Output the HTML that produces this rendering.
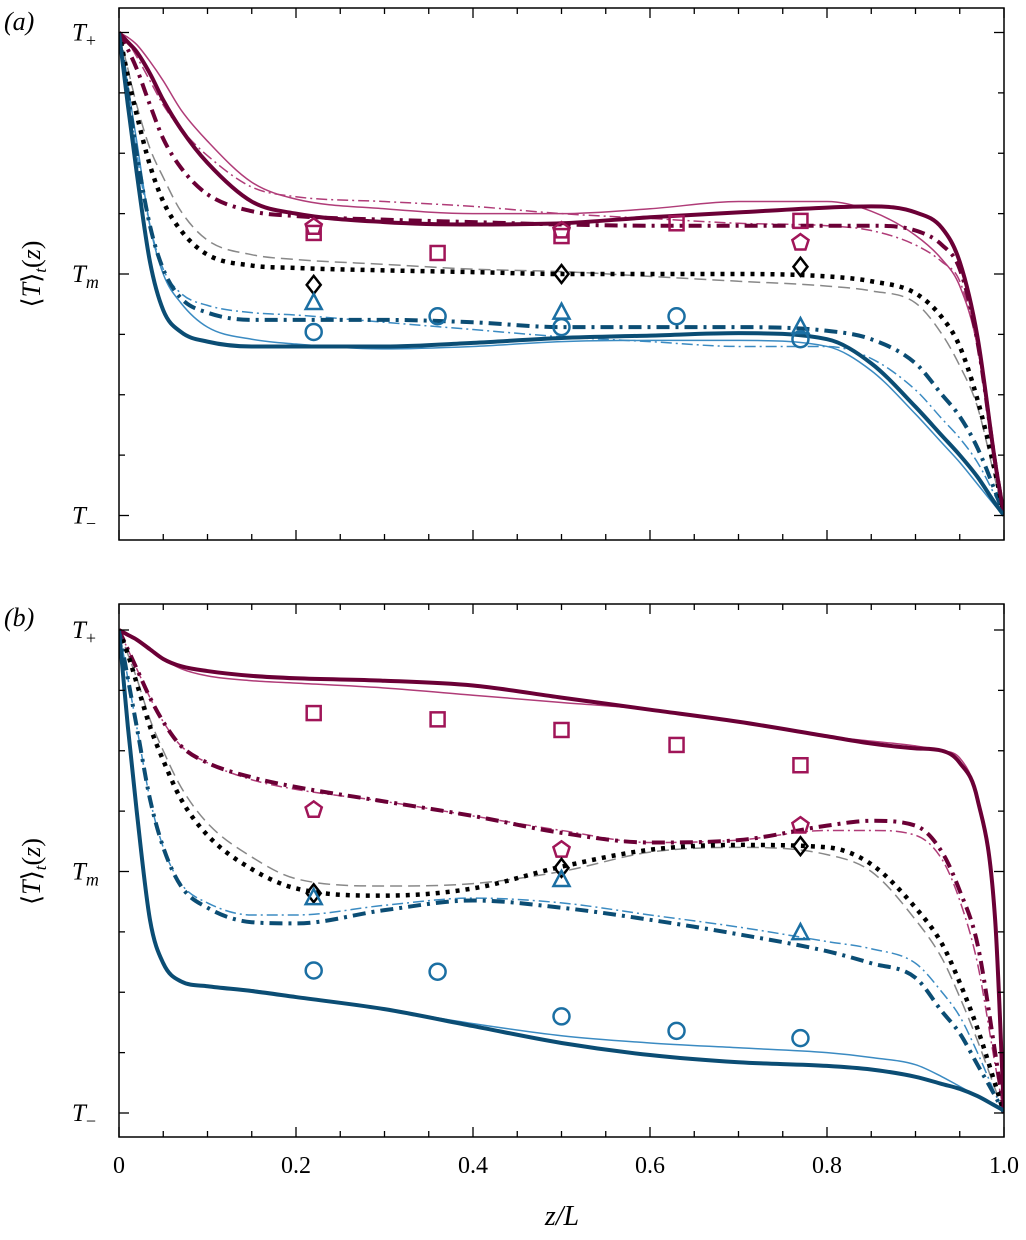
<!DOCTYPE html>
<html><head><meta charset="utf-8"><style>
body{margin:0;background:#fff}
svg{display:block;font-family:"Liberation Serif",serif}
</style></head><body>
<svg id="c" width="1026" height="1240"></svg>
<script>
const zs=[0,0.01,0.02,0.035,0.05,0.07,0.1,0.15,0.2,0.3,0.4,0.5,0.6,0.7,0.8,0.85,0.9,0.93,0.95,0.97,0.99,1];
// panel a series (theta: T+=1, Tm=0, T-=-1)
const aMaroonThick=[1,0.96,0.92,0.83,0.72,0.6,0.46,0.3,0.25,0.215,0.205,0.21,0.235,0.255,0.275,0.28,0.255,0.19,0.05,-0.26,-0.78,-1];
const aPinkThin=[1,0.98,0.95,0.88,0.8,0.68,0.55,0.38,0.31,0.27,0.25,0.25,0.27,0.3,0.3,0.26,0.16,0.06,-0.05,-0.3,-0.8,-1];
const aMaroonDD=[1,0.93,0.85,0.7,0.56,0.44,0.33,0.26,0.24,0.225,0.215,0.205,0.2,0.2,0.2,0.2,0.18,0.12,0.02,-0.28,-0.78,-1];
const aPinkDD=[1,0.96,0.9,0.8,0.7,0.6,0.49,0.36,0.32,0.3,0.28,0.25,0.23,0.21,0.2,0.18,0.12,0.05,-0.03,-0.3,-0.8,-1];
const aBlackDot=[1,0.82,0.66,0.45,0.3,0.18,0.08,0.035,0.025,0.015,0.008,0,0,0,-0.01,-0.03,-0.08,-0.18,-0.3,-0.52,-0.82,-1];
const aGrayDash=[1,0.85,0.7,0.52,0.4,0.26,0.14,0.08,0.06,0.04,0.02,0.01,-0.01,-0.03,-0.05,-0.07,-0.12,-0.25,-0.38,-0.55,-0.85,-1];
const aBlueDD=[1,0.75,0.5,0.2,0.02,-0.1,-0.16,-0.19,-0.19,-0.19,-0.2,-0.22,-0.22,-0.22,-0.235,-0.27,-0.37,-0.5,-0.59,-0.72,-0.9,-1];
const aBlueDDThin=[1,0.75,0.5,0.2,0.02,-0.08,-0.13,-0.16,-0.17,-0.2,-0.23,-0.26,-0.28,-0.3,-0.3,-0.35,-0.48,-0.6,-0.68,-0.78,-0.92,-1];
const aBlueThick=[1,0.7,0.42,0.05,-0.15,-0.24,-0.28,-0.3,-0.3,-0.3,-0.285,-0.265,-0.255,-0.245,-0.27,-0.37,-0.55,-0.67,-0.75,-0.84,-0.95,-1];
const aBlueThin=[1,0.78,0.55,0.2,0.0,-0.12,-0.22,-0.27,-0.29,-0.31,-0.3,-0.28,-0.275,-0.275,-0.3,-0.4,-0.58,-0.7,-0.78,-0.87,-0.96,-1];
// panel b series
const bMaroonThick=[1,0.98,0.96,0.92,0.88,0.85,0.83,0.81,0.8,0.79,0.77,0.72,0.67,0.62,0.56,0.53,0.51,0.5,0.45,0.3,-0.2,-1];
const bPinkThin=[1,0.98,0.96,0.92,0.88,0.84,0.81,0.79,0.78,0.76,0.73,0.7,0.67,0.62,0.56,0.54,0.52,0.5,0.47,0.3,-0.2,-1];
const bMaroonDD=[1,0.92,0.84,0.72,0.62,0.52,0.45,0.39,0.35,0.29,0.23,0.16,0.12,0.13,0.19,0.21,0.19,0.08,-0.08,-0.3,-0.75,-1];
const bPinkDD=[1,0.92,0.84,0.72,0.62,0.52,0.45,0.38,0.34,0.29,0.23,0.17,0.12,0.13,0.17,0.17,0.15,0.05,-0.12,-0.38,-0.8,-1];
const bBlackDot=[1,0.9,0.78,0.6,0.46,0.3,0.15,0.01,-0.07,-0.1,-0.07,0.02,0.09,0.11,0.1,0.03,-0.15,-0.3,-0.46,-0.65,-0.88,-1];
const bGrayDash=[1,0.9,0.8,0.63,0.5,0.35,0.2,0.06,-0.03,-0.06,-0.05,0,0.08,0.1,0.07,0,-0.2,-0.36,-0.52,-0.7,-0.9,-1];
const bBlueDD=[1,0.8,0.6,0.3,0.1,-0.06,-0.15,-0.21,-0.215,-0.16,-0.12,-0.15,-0.2,-0.26,-0.33,-0.38,-0.44,-0.58,-0.67,-0.8,-0.93,-1];
const bBlueDDThin=[1,0.8,0.6,0.3,0.1,-0.05,-0.13,-0.18,-0.18,-0.14,-0.11,-0.13,-0.18,-0.23,-0.29,-0.32,-0.38,-0.5,-0.6,-0.75,-0.92,-1];
const bBlueThick=[1,0.6,0.25,-0.2,-0.38,-0.455,-0.475,-0.495,-0.52,-0.57,-0.64,-0.71,-0.76,-0.79,-0.805,-0.82,-0.85,-0.88,-0.9,-0.93,-0.97,-0.99];
const bBlueThin=[1,0.6,0.25,-0.2,-0.38,-0.455,-0.475,-0.49,-0.52,-0.57,-0.63,-0.68,-0.71,-0.73,-0.75,-0.77,-0.8,-0.85,-0.89,-0.93,-0.97,-0.99];
// markers
const mz5=[0.22,0.36,0.5,0.63,0.77], mz3=[0.22,0.5,0.77];
const aSquares=[0.17,0.087,0.157,0.21,0.22], aPent=[0.195,0.18,0.13], aDiam=[-0.045,0,0.03], aTri=[-0.12,-0.16,-0.22], aCirc=[-0.24,-0.175,-0.22,-0.175,-0.27];
const bSquares=[0.656,0.63,0.586,0.524,0.44], bPent=[0.255,0.09,0.19], bDiam=[-0.09,0.015,0.105], bTri=[-0.11,-0.035,-0.255], bCirc=[-0.41,-0.415,-0.6,-0.66,-0.69];
const xTicks=[0,0.2,0.4,0.6,0.8,1.0], xTickLabels=["0","0.2","0.4","0.6","0.8","1.0"];

const NS="http://www.w3.org/2000/svg", svg=document.getElementById('c');
function el(t,a,p){const e=document.createElementNS(NS,t);for(const k in a)e.setAttribute(k,a[k]);(p||svg).appendChild(e);return e;}
const X0=119,X1=1004;
const xs=z=>X0+z*(X1-X0);
const C={mt:'#6b0036',pt:'#b03c78',mm:'#a01558',bt:'#0b4d74',bl:'#3b8bc2',bm:'#1b6fa3'};
// monotone cubic (Fritsch-Carlson)
function path(pts){const n=pts.length,d=[],m=new Array(n);
  for(let i=0;i<n-1;i++)d.push((pts[i+1][1]-pts[i][1])/(pts[i+1][0]-pts[i][0]));
  m[0]=d[0];m[n-1]=d[n-2];
  for(let i=1;i<n-1;i++){m[i]=(d[i-1]*d[i]<=0)?0:(d[i-1]+d[i])/2;}
  for(let i=0;i<n-1;i++){if(d[i]===0){m[i]=0;m[i+1]=0;continue;}const a=m[i]/d[i],b=m[i+1]/d[i],s=a*a+b*b;if(s>9){const t=3/Math.sqrt(s);m[i]=t*a*d[i];m[i+1]=t*b*d[i];}}
  let s='M'+pts[0][0]+','+pts[0][1];
  for(let i=0;i<n-1;i++){const h=(pts[i+1][0]-pts[i][0])/3;
    s+=' C'+(pts[i][0]+h)+','+(pts[i][1]+m[i]*h)+' '+(pts[i+1][0]-h)+','+(pts[i+1][1]-m[i+1]*h)+' '+pts[i+1][0]+','+pts[i+1][1];}
  return s;}
function panel(top,bot,ymid,label,S,M){
  const ys=t=>ymid-t*241.5;
  const g=el('g',{});  
  const clip='cl'+label; const cp=el('clipPath',{id:clip},g); el('rect',{x:X0,y:top,width:X1-X0,height:bot-top},cp);
  const lines=[
   ['gray-dashed',S[5],'#888',1.5,'12,6'],
   ['pink-thin-dashdot',S[3],C.pt,1.5,'11,4,2,4'],
   ['pink-thin-solid',S[1],C.pt,1.5,''],
   ['blue-thin-dashdot',S[7],C.bl,1.5,'11,4,2,4'],
   ['blue-thin-solid',S[9],C.bl,1.5,''],
   ['maroon-thick-dashdot',S[2],C.mt,4,'13,6,3,6'],
   ['blue-thick-dashdot',S[6],C.bt,4,'13,6,3,6'],
   ['black-dotted',S[4],'#000',4.5,'4,6'],
   ['maroon-thick-solid',S[0],C.mt,4,''],
   ['blue-thick-solid',S[8],C.bt,4,'']];
  for(const L of lines){const p=el('path',{d:path(zs.map((z,i)=>[xs(z),ys(L[1][i])])),fill:'none',stroke:L[2],'stroke-width':L[3],'stroke-dasharray':L[4],'clip-path':'url(#'+clip+')'},g);
    
    }
  function mk(arr,zz,type,col){zz.forEach((z,i)=>{const x=xs(z),y=ys(arr[i]);let e;
    if(type==='sq')e=el('rect',{x:x-7,y:y-7,width:14,height:14},g);
    else if(type==='ci')e=el('circle',{cx:x,cy:y,r:8},g);
    else if(type==='tr')e=el('polygon',{points:`${x},${y-9} ${x+8},${y+6} ${x-8},${y+6}`},g);
    else if(type==='di')e=el('polygon',{points:`${x},${y-9} ${x+7},${y} ${x},${y+9} ${x-7},${y}`},g);
    else {let p=[];for(let k=0;k<5;k++){const a=-Math.PI/2+k*2*Math.PI/5;p.push((x+8.5*Math.cos(a))+','+(y+8.5*Math.sin(a)));}e=el('polygon',{points:p.join(' ')},g);}
    e.setAttribute('fill','none');e.setAttribute('stroke',col);e.setAttribute('stroke-width','2.5');
    
    });}
  mk(M[0],mz5,'sq',C.mm);mk(M[1],mz3,'pe',C.mm);mk(M[2],mz3,'di','#000');mk(M[3],mz3,'tr',C.bm);mk(M[4],mz5,'ci',C.bm);
  el('rect',{x:X0,y:top,width:X1-X0,height:bot-top,fill:'none',stroke:'#000','stroke-width':1.5},g);
  for(let i=0;i<=20;i++){const x=xs(i/20),len=i%4===0?10:6;
    el('line',{x1:x,y1:bot,x2:x,y2:bot-len,stroke:'#000','stroke-width':1.3},g);
    el('line',{x1:x,y1:top,x2:x,y2:top+len,stroke:'#000','stroke-width':1.3},g);}
  for(let i=-4;i<=4;i++){const y=ys(i/4),len=i%4===0?10:6;
    el('line',{x1:X0,y1:y,x2:X0+len,y2:y,stroke:'#000','stroke-width':1.3},g);
    el('line',{x1:X1,y1:y,x2:X1-len,y2:y,stroke:'#000','stroke-width':1.3},g);}
  const labs=[[ys(1),'+','t-plus','normal'],[ys(0),'m','t-m','italic'],[ys(-1),'−','t-minus','normal']];
  for(const l of labs){const t=el('text',{x:72,y:l[0]+8,'font-size':25,'font-style':'italic'},g);t.innerHTML='T<tspan font-size="18" dy="6" font-style="'+l[3]+'">'+l[1]+'</tspan>';
    
    }
  const pl=el('text',{x:4,y:top+22,'font-size':26,'font-style':'italic'},g);pl.textContent='('+label+')';
  
  
  const yt=el('text',{transform:`translate(40,${ymid}) rotate(-90)`,'text-anchor':'middle','font-size':26},g);
  yt.innerHTML='⟨<tspan font-style="italic">T</tspan>⟩<tspan font-size="17" dy="6" font-style="italic">t</tspan><tspan dy="-6">(</tspan><tspan font-style="italic">z</tspan>)';
  
  
}
panel(8,540,274,'a',[aMaroonThick,aPinkThin,aMaroonDD,aPinkDD,aBlackDot,aGrayDash,aBlueDD,aBlueDDThin,aBlueThick,aBlueThin],[aSquares,aPent,aDiam,aTri,aCirc]);
panel(604,1137,871.5,'b',[bMaroonThick,bPinkThin,bMaroonDD,bPinkDD,bBlackDot,bGrayDash,bBlueDD,bBlueDDThin,bBlueThick,bBlueThin],[bSquares,bPent,bDiam,bTri,bCirc]);
xTicks.forEach((v,i)=>{const t=el('text',{x:xs(v),y:1173,'text-anchor':'middle','font-size':24});t.textContent=xTickLabels[i];
  
  });
const xt=el('text',{x:562,y:1225,'text-anchor':'middle','font-size':28,'font-style':'italic'});xt.textContent='z/L';


</script>
</body></html>
